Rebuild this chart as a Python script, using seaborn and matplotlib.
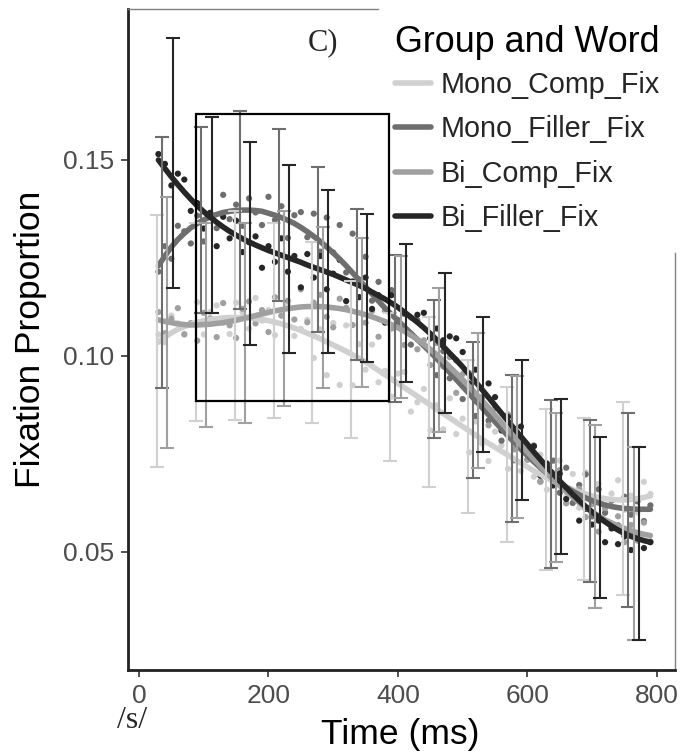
import numpy as np
import pandas as pd
import seaborn as sns
import matplotlib
matplotlib.use("Agg")
import matplotlib.pyplot as plt
from matplotlib.lines import Line2D
from matplotlib.patches import Rectangle

# ---------------------------------------------------------------- data
groups = ["Mono_Comp_Fix", "Mono_Filler_Fix", "Bi_Comp_Fix", "Bi_Filler_Fix"]
colors = ["#d0d0d0", "#6e6e6e", "#a0a0a0", "#262626"]

# 10 ms time bins
time_ms = np.arange(30, 791, 10)

# mean fixation proportion per bin
mono_comp = [
    .1055, .1035, .1103, .1083, .1056, .1082, .1137, .1055, .1112, .1129,
    .1085, .1056, .1136, .1111, .1070, .1148, .1090, .1117, .1053, .1103,
    .1132, .1051, .1069, .1092, .0995, .1068, .0951, .1084, .0926, .1078,
    .0925, .1030, .0965, .1029, .0933, .0962, .0896, .0955, .0959, .0858,
    .0882, .0916, .0810, .0874, .0813, .0892, .0801, .0840, .0754, .0833,
    .0777, .0732, .0807, .0772, .0712, .0762, .0707, .0762, .0692, .0748,
    .0659, .0701, .0733, .0641, .0699, .0613, .0703, .0633, .0674, .0606,
    .0649, .0683, .0608, .0644, .0601, .0679, .0648]
mono_filler = [
    .1215, .1280, .1248, .1332, .1318, .1287, .1358, .1292, .1365, .1326,
    .1411, .1349, .1386, .1332, .1402, .1366, .1334, .1406, .1347, .1382,
    .1301, .1359, .1367, .1303, .1363, .1266, .1353, .1264, .1334, .1213,
    .1312, .1195, .1253, .1141, .1189, .1116, .1168, .1085, .1107, .1029,
    .1091, .1028, .1045, .0951, .1012, .0943, .0989, .0890, .0916, .0847,
    .0893, .0835, .0867, .0784, .0811, .0734, .0792, .0736, .0770, .0680,
    .0721, .0733, .0651, .0715, .0625, .0671, .0698, .0591, .0660, .0600,
    .0631, .0568, .0641, .0595, .0629, .0579, .0619]
bi_comp = [
    .1112, .1058, .1095, .1122, .1055, .1084, .1039, .1110, .1096, .1048,
    .1135, .1078, .1046, .1120, .1139, .1083, .1117, .1061, .1150, .1103,
    .1141, .1093, .1170, .1086, .1136, .1156, .1100, .1073, .1146, .1123,
    .1079, .1150, .1085, .1115, .1049, .1118, .1070, .1092, .1028, .1098,
    .1017, .1040, .0977, .1033, .0973, .0997, .0906, .0954, .0957, .0884,
    .0896, .0823, .0869, .0820, .0851, .0762, .0788, .0735, .0772, .0679,
    .0727, .0670, .0709, .0624, .0650, .0661, .0589, .0622, .0552, .0612,
    .0564, .0591, .0525, .0569, .0529, .0575, .0527]
bi_filler = [
    .1515, .1490, .1435, .1465, .1450, .1370, .1390, .1325, .1365, .1280,
    .1355, .1300, .1345, .1265, .1290, .1305, .1225, .1280, .1240, .1300,
    .1215, .1255, .1175, .1260, .1200, .1255, .1170, .1210, .1245, .1140,
    .1190, .1150, .1200, .1120, .1155, .1085, .1155, .1090, .1110, .1055,
    .1105, .1110, .1045, .1070, .1040, .1050, .1045, .1010, .0930, .0965,
    .0880, .0930, .0895, .0810, .0845, .0785, .0820, .0760, .0770, .0695,
    .0725, .0670, .0700, .0635, .0655, .0580, .0610, .0570, .0580, .0525,
    .0560, .0520, .0540, .0505, .0535, .0510, .0525]

# smoothed trend per bin
fit_mono_comp = [
    .1035, .1048, .1059, .1068, .1075, .1081, .1086, .1090, .1093, .1095,
    .1097, .1098, .1098, .1098, .1097, .1095, .1093, .1090, .1086, .1082,
    .1077, .1071, .1065, .1058, .1051, .1044, .1036, .1028, .1020, .1012,
    .1003, .0994, .0985, .0974, .0963, .0952, .0941, .0930, .0919, .0908,
    .0897, .0886, .0875, .0864, .0853, .0842, .0831, .0820, .0809, .0798,
    .0787, .0777, .0767, .0757, .0747, .0737, .0727, .0717, .0707, .0698,
    .0689, .0681, .0673, .0666, .0659, .0653, .0648, .0643, .0639, .0636,
    .0634, .0633, .0633, .0634, .0636, .0639, .0643]
fit_mono_filler = [
    .1230, .1255, .1278, .1297, .1313, .1327, .1338, .1347, .1355, .1361,
    .1366, .1369, .1371, .1372, .1372, .1371, .1369, .1364, .1359, .1353,
    .1346, .1338, .1328, .1317, .1305, .1292, .1278, .1263, .1247, .1230,
    .1212, .1194, .1176, .1158, .1140, .1122, .1106, .1090, .1074, .1058,
    .1042, .1026, .1010, .0993, .0976, .0958, .0940, .0922, .0904, .0886,
    .0868, .0850, .0832, .0814, .0796, .0779, .0762, .0746, .0730, .0715,
    .0701, .0688, .0676, .0665, .0655, .0646, .0638, .0631, .0625, .0620,
    .0616, .0613, .0611, .0610, .0609, .0609, .0609]
fit_bi_comp = [
    .1092, .1088, .1085, .1082, .1080, .1079, .1079, .1080, .1081, .1083,
    .1085, .1088, .1091, .1095, .1099, .1103, .1107, .1111, .1115, .1118,
    .1121, .1123, .1125, .1126, .1126, .1126, .1125, .1123, .1121, .1118,
    .1114, .1110, .1105, .1100, .1094, .1088, .1080, .1072, .1063, .1053,
    .1042, .1030, .1017, .1003, .0988, .0972, .0956, .0939, .0922, .0904,
    .0886, .0868, .0849, .0830, .0811, .0792, .0773, .0755, .0737, .0719,
    .0702, .0685, .0669, .0654, .0640, .0626, .0614, .0602, .0592, .0582,
    .0574, .0566, .0560, .0554, .0549, .0545, .0542]
fit_bi_filler = [
    .1500, .1478, .1457, .1437, .1418, .1400, .1383, .1368, .1354, .1341,
    .1329, .1318, .1308, .1299, .1291, .1283, .1276, .1269, .1263, .1257,
    .1251, .1245, .1239, .1232, .1226, .1220, .1214, .1208, .1201, .1194,
    .1187, .1180, .1172, .1163, .1154, .1145, .1135, .1124, .1112, .1099,
    .1086, .1072, .1057, .1041, .1024, .1007, .0990, .0972, .0953, .0934,
    .0914, .0894, .0874, .0854, .0834, .0814, .0794, .0775, .0755, .0736,
    .0717, .0699, .0681, .0664, .0647, .0631, .0616, .0602, .0589, .0577,
    .0566, .0556, .0547, .0540, .0534, .0529, .0525]

# error bars: 13 time windows, lower / upper limits per group
eb_time = [40, 100, 160, 220, 280, 340, 400, 460, 520, 580, 640, 700, 760]
eb_low = {
    "Mono_Comp_Fix":   [.0717, .0835, .0837, .0842, .0829, .0790, .0732, .0666, .0600, .0525, .0454, .0429, .0390],
    "Mono_Filler_Fix": [.0918, .1110, .1120, .1140, .1061, .0990, .0883, .0791, .0689, .0577, .0459, .0423, .0360],
    "Bi_Comp_Fix":     [.0765, .0820, .0830, .0872, .0918, .0920, .0893, .0806, .0714, .0587, .0474, .0357, .0276],
    "Bi_Filler_Fix":   [.1173, .1110, .1028, .1008, .1008, .0985, .0934, .0855, .0755, .0633, .0495, .0383, .0276],
}
eb_high = {
    "Mono_Comp_Fix":   [.1360, .1340, .1370, .1340, .1290, .1190, .1110, .1100, .0990, .0920, .0866, .0842, .0883],
    "Mono_Filler_Fix": [.1559, .1585, .1625, .1580, .1483, .1375, .1258, .1143, .1036, .0951, .0888, .0837, .0855],
    "Bi_Comp_Fix":     [.1406, .1340, .1340, .1370, .1330, .1300, .1255, .1173, .1059, .0950, .0855, .0823, .0768],
    "Bi_Filler_Fix":   [.1810, .1610, .1546, .1487, .1423, .1362, .1286, .1212, .1100, .0990, .0890, .0793, .0768],
}

dot_values = dict(zip(groups, [mono_comp, mono_filler, bi_comp, bi_filler]))
fit_values = dict(zip(groups, [fit_mono_comp, fit_mono_filler, fit_bi_comp, fit_bi_filler]))
palette = dict(zip(groups, colors))

dots = pd.concat(
    [pd.DataFrame({"time": time_ms, "prop": dot_values[g], "group": g}) for g in groups],
    ignore_index=True)
trend = pd.concat(
    [pd.DataFrame({"time": time_ms, "prop": fit_values[g], "group": g}) for g in groups],
    ignore_index=True)

# ---------------------------------------------------------------- style
sns.set_style("white")
plt.rcParams["font.family"] = ["Liberation Sans", "DejaVu Sans"]

fig = plt.figure(figsize=(6.85, 7.55), dpi=100)
ax = fig.add_axes([128 / 685, 85 / 755, 547 / 685, 661 / 755])

sns.scatterplot(data=dots, x="time", y="prop", hue="group", hue_order=groups,
                palette=palette, s=20, linewidth=0, legend=False, ax=ax, zorder=2)
sns.lineplot(data=trend, x="time", y="prop", hue="group", hue_order=groups,
             palette=palette, estimator=None, lw=4.0, legend=False, ax=ax, zorder=3)

dodge = [-12, -4, 4, 12]
for g, off in zip(groups, dodge):
    lo = np.array(eb_low[g])
    hi = np.array(eb_high[g])
    mid = (lo + hi) / 2
    ax.errorbar(np.array(eb_time) + off, mid, yerr=[mid - lo, hi - mid], fmt="none",
                ecolor=palette[g], elinewidth=1.5, capsize=5, capthick=1.5, zorder=4)

ax.add_patch(Rectangle((88, 0.0884), 298, 0.0733, fill=False, edgecolor="black",
                       lw=1.6, zorder=5))

ax.set_xlim(-17, 828)
ax.set_ylim(0.0199, 0.1885)
ax.set_xticks([0, 200, 400, 600, 800])
ax.set_yticks([0.05, 0.10, 0.15])
ax.set_yticklabels(["0.05", "0.10", "0.15"])
ax.tick_params(axis="both", length=5, width=1.2, color="#333333", labelsize=19,
               labelcolor="#4d4d4d", pad=5, left=True, bottom=True)

ax.set_xlabel("Time (ms)", fontsize=25.5, color="black")
ax.set_ylabel("Fixation Proportion", fontsize=25.5, color="black")
ax.xaxis.set_label_coords(0.497, -0.073)
ax.yaxis.set_label_coords(-0.148, 0.5)

for side in ["left", "bottom"]:
    ax.spines[side].set_color("#222222")
    ax.spines[side].set_linewidth(2.0)
for side in ["top", "right"]:
    ax.spines[side].set_visible(True)
    ax.spines[side].set_color("#808080")
    ax.spines[side].set_linewidth(1.0)
ax.spines["top"].set_bounds(-17, 369)
ax.spines["right"].set_bounds(0.0199, 0.1263)

# legend: title as its own text, entries below it
fig.text(395 / 685, 1 - 42 / 755, "Group and Word", ha="left", va="center",
         fontsize=25.8, color="black")
handles = [Line2D([0], [0], color=c, lw=4.0) for c in colors]
leg = ax.legend(handles, groups, loc="upper left",
                bbox_to_anchor=(395 / 685, 1 - 71 / 755), bbox_transform=fig.transFigure,
                frameon=False, fontsize=20.7, borderpad=0,
                handlelength=1.25, handletextpad=0.35, labelspacing=0.572,
                borderaxespad=0)

fig.text(323 / 685, 1 - 43 / 755, "C)", ha="center", va="center",
         family="Liberation Serif", fontsize=22)
fig.text(132 / 685, 1 - 721 / 755, "/s/", ha="center", va="center",
         family="Liberation Serif", fontsize=23)

fig.savefig("out.png", dpi=100)
